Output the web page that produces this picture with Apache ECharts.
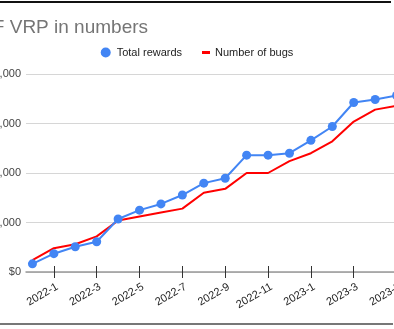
<!DOCTYPE html>
<html>
<head>
<meta charset="utf-8">
<script src="https://cdn.jsdelivr.net/npm/echarts@6/dist/echarts.min.js"></script>
<style>
  html, body { margin: 0; padding: 0; background: #fff; overflow: hidden; }
  #chart { width: 394px; height: 329px; }
</style>
</head>
<body>
<div id="chart"></div>
<script>
// Monthly running totals of the kCTF VRP
const months = ['2021-12', '2022-1', '2022-2', '2022-3', '2022-4', '2022-5', '2022-6', '2022-7', '2022-8',
  '2022-9', '2022-10', '2022-11', '2022-12', '2023-1', '2023-2', '2023-3', '2023-4', '2023-5'];
const totalRewards = [33000, 74000, 102000, 122000, 214000, 250000, 275000, 311000, 359000,
  379000, 472000, 472000, 480000, 532000, 588000, 685000, 697000, 713000];
const bugCounts = [3, 6, 7, 9, 13, 14, 15, 16, 20, 21, 25, 25, 28, 30, 33, 38, 41, 42];
const monthTickLabels = ['2022-1', '2022-3', '2022-5', '2022-7', '2022-9', '2022-11', '2023-1', '2023-3', '2023-5'];
const rewardTicks = [0, 200000, 400000, 600000, 800000];
const bugAxisMax = 50;

const FONT = '"Liberation Sans", Arial, sans-serif';
const tickPositions = monthTickLabels.map(m => months.indexOf(m));

const xBase = {
  type: 'value',
  min: -0.3,
  max: 18,
  gridIndex: 0,
  splitLine: { show: false }
};

const chart = echarts.init(document.getElementById('chart'), null, { renderer: 'canvas' });
chart.setOption({
  animation: false,
  backgroundColor: '#fff',
  textStyle: { fontFamily: FONT },
  title: {
    text: 'kCTF VRP in numbers',
    left: -47,
    top: 13.5,
    textStyle: { fontSize: 19, fontWeight: 'normal', color: '#757575', fontFamily: FONT }
  },
  legend: [
    {
      data: ['Total rewards'],
      icon: 'circle',
      left: 95.7,
      top: 42,
      itemWidth: 12,
      itemHeight: 10,
      textStyle: { fontSize: 11, color: '#222', fontFamily: FONT }
    },
    {
      data: ['Number of bugs'],
      icon: 'rect',
      left: 197,
      top: 42,
      itemWidth: 8,
      itemHeight: 3,
      textStyle: { fontSize: 11, color: '#222', fontFamily: FONT }
    }
  ],
  grid: { left: 26, top: 74, width: 392, height: 198, containLabel: false, outerBoundsMode: 'none' },
  xAxis: [
    Object.assign({}, xBase, {
      axisLine: { show: true, lineStyle: { color: '#999', width: 1.5 } },
      axisTick: { show: true, customValues: tickPositions, length: 6, lineStyle: { color: '#333', width: 1 } },
      axisLabel: {
        customValues: tickPositions,
        rotate: 30,
        margin: 16,
        padding: [0, -4, 0, 0],
        fontSize: 11,
        color: '#222',
        fontFamily: FONT,
        formatter: v => months[Math.round(v)] || ''
      }
    }),
    Object.assign({}, xBase, {
      position: 'bottom',
      axisLine: { show: false },
      axisTick: { show: true, inside: true, customValues: tickPositions, length: 6, lineStyle: { color: '#333', width: 1 } },
      axisLabel: { show: false }
    })
  ],
  yAxis: [
    {
      type: 'value',
      min: rewardTicks[0],
      max: rewardTicks[rewardTicks.length - 1],
      interval: rewardTicks[1] - rewardTicks[0],
      axisLine: { show: false },
      axisTick: { show: false },
      splitLine: { show: true, lineStyle: { color: '#d6d6d6', width: 1 } },
      axisLabel: {
        margin: 5,
        fontSize: 11,
        color: '#444',
        fontFamily: FONT,
        formatter: v => '$' + v.toLocaleString('en-US')
      }
    },
    {
      type: 'value',
      min: 0,
      max: bugAxisMax,
      show: false
    }
  ],
  series: [
    {
      name: 'Number of bugs',
      type: 'line',
      xAxisIndex: 0,
      yAxisIndex: 1,
      data: bugCounts.map((v, i) => [i, v]),
      showSymbol: false,
      symbol: 'none',
      color: '#ff0000',
      lineStyle: { color: '#ff0000', width: 2 },
      z: 2
    },
    {
      name: 'Total rewards',
      type: 'line',
      xAxisIndex: 0,
      yAxisIndex: 0,
      data: totalRewards.map((v, i) => [i, v]),
      symbol: 'circle',
      symbolSize: 9,
      color: '#4285f4',
      itemStyle: { color: '#4285f4' },
      lineStyle: { color: '#4285f4', width: 2 },
      z: 3
    }
  ],
  graphic: [
    { type: 'line', shape: { x1: 0, y1: 2, x2: 391, y2: 2 }, style: { stroke: '#111', lineWidth: 2 }, z: 100 },
    { type: 'line', shape: { x1: 0, y1: 324, x2: 393, y2: 324 }, style: { stroke: '#777', lineWidth: 2 }, z: 100 }
  ]
});
</script>
</body>
</html>
